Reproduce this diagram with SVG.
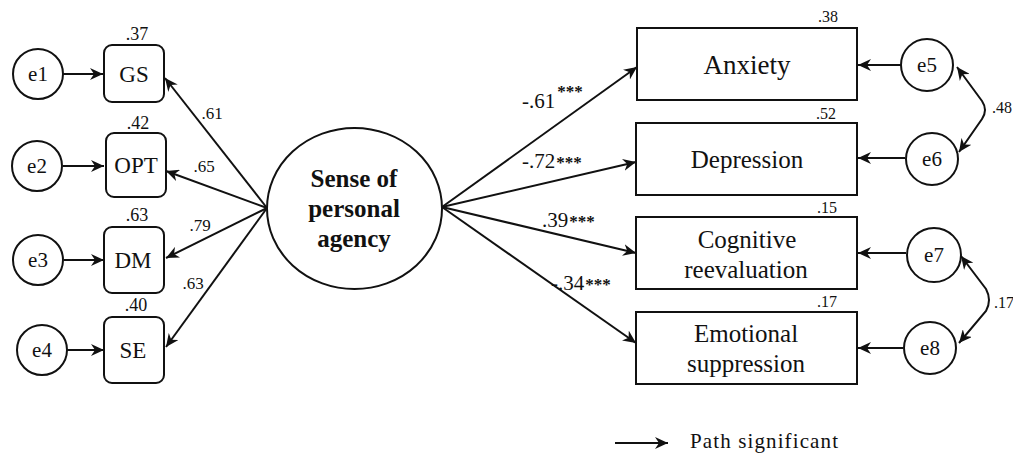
<svg xmlns="http://www.w3.org/2000/svg" width="1013" height="458" viewBox="0 0 1013 458">
<style>
.bg{fill:#fff}
.node{fill:#fff;stroke:#111;stroke-width:2}
.edge{fill:none;stroke:#111;stroke-width:2}
</style>
<defs>
<marker id="ah" markerUnits="userSpaceOnUse" markerWidth="14" markerHeight="12" refX="13" refY="6" orient="auto-start-reverse">
<path d="M0,0 L13,6 L0,12 L4,6 z" fill="#111"/>
</marker>
</defs>
<rect class="bg" width="1013" height="458"/>

<g id="connectors">
<line class="edge" x1="63" y1="74" x2="103" y2="74" marker-end="url(#ah)"/>
<line class="edge" x1="63" y1="166" x2="104" y2="166" marker-end="url(#ah)"/>
<line class="edge" x1="64" y1="260" x2="104" y2="260" marker-end="url(#ah)"/>
<line class="edge" x1="67" y1="350" x2="104" y2="350" marker-end="url(#ah)"/>
<line class="edge" x1="267" y1="208" x2="165" y2="78" marker-end="url(#ah)"/>
<line class="edge" x1="267" y1="208" x2="166" y2="171" marker-end="url(#ah)"/>
<line class="edge" x1="267" y1="208" x2="166" y2="258" marker-end="url(#ah)"/>
<line class="edge" x1="267" y1="208" x2="166" y2="347" marker-end="url(#ah)"/>
<line class="edge" x1="442" y1="207" x2="637" y2="67" marker-end="url(#ah)"/>
<line class="edge" x1="442" y1="207" x2="636" y2="162" marker-end="url(#ah)"/>
<line class="edge" x1="442" y1="207" x2="636" y2="253" marker-end="url(#ah)"/>
<line class="edge" x1="442" y1="207" x2="636" y2="343" marker-end="url(#ah)"/>
<line class="edge" x1="901" y1="65" x2="858" y2="65" marker-end="url(#ah)"/>
<line class="edge" x1="905" y1="158" x2="858" y2="158" marker-end="url(#ah)"/>
<line class="edge" x1="906" y1="253" x2="858" y2="253" marker-end="url(#ah)"/>
<line class="edge" x1="903" y1="348" x2="858" y2="348" marker-end="url(#ah)"/>
<path class="edge" d="M957,67 L982,101 Q988,110 982,119 L959,152" marker-start="url(#ah)" marker-end="url(#ah)"/>
<path class="edge" d="M961,256 L986,289 Q992,300 986,311 L959,343" marker-start="url(#ah)" marker-end="url(#ah)"/>
<line class="edge" x1="615" y1="443" x2="668" y2="443" marker-end="url(#ah)"/>
</g>

<g font-family="Liberation Serif" fill="#111" text-anchor="middle">
<g id="e1"><circle class="node" cx="38" cy="74" r="25"/><text font-family="Liberation Serif" font-size="21" x="38" y="81">e1</text></g>
<g id="e2"><circle class="node" cx="37" cy="166" r="25"/><text font-family="Liberation Serif" font-size="21" x="37" y="173">e2</text></g>
<g id="e3"><circle class="node" cx="38" cy="260" r="25"/><text font-family="Liberation Serif" font-size="21" x="38" y="267">e3</text></g>
<g id="e4"><circle class="node" cx="42" cy="350" r="25"/><text font-family="Liberation Serif" font-size="21" x="42" y="357">e4</text></g>

<g id="GS"><rect class="node" x="104" y="45" width="60" height="57" rx="8"/><text font-family="Liberation Serif" font-size="23" x="134" y="82">GS</text><text font-family="Liberation Serif" font-size="18" x="137" y="40">.37</text></g>
<g id="OPT"><rect class="node" x="106" y="133" width="60" height="64" rx="8"/><text font-family="Liberation Serif" font-size="23" x="136" y="173">OPT</text><text font-family="Liberation Serif" font-size="18" x="138" y="129">.42</text></g>
<g id="DM"><rect class="node" x="104" y="227" width="60" height="66" rx="8"/><text font-family="Liberation Serif" font-size="23" x="133" y="268">DM</text><text font-family="Liberation Serif" font-size="18" x="137" y="221">.63</text></g>
<g id="SE"><rect class="node" x="104" y="317" width="60" height="66" rx="8"/><text font-family="Liberation Serif" font-size="23" x="133" y="358">SE</text><text font-family="Liberation Serif" font-size="18" x="136" y="311">.40</text></g>

<g id="agency"><ellipse class="node" cx="354.5" cy="208.5" rx="87.5" ry="80.5"/>
<text font-family="Liberation Serif" font-size="25" font-weight="bold" x="354" y="187">Sense of</text>
<text font-family="Liberation Serif" font-size="25" font-weight="bold" x="354" y="217">personal</text>
<text font-family="Liberation Serif" font-size="25" font-weight="bold" x="354" y="247">agency</text></g>

<g id="Anxiety"><rect class="node" x="637" y="28" width="220" height="72"/><text font-family="Liberation Serif" font-size="27" x="747" y="74">Anxiety</text><text font-family="Liberation Serif" font-size="16" x="828" y="22">.38</text></g>
<g id="Depression"><rect class="node" x="636" y="123" width="221" height="72"/><text font-family="Liberation Serif" font-size="25" x="747" y="168">Depression</text><text font-family="Liberation Serif" font-size="16" x="826" y="119">.52</text></g>
<g id="Cognitive"><rect class="node" x="636" y="217" width="221" height="72"/><text font-family="Liberation Serif" font-size="25" x="747" y="248">Cognitive</text><text font-family="Liberation Serif" font-size="25" x="746" y="278">reevaluation</text><text font-family="Liberation Serif" font-size="16" x="827" y="213">.15</text></g>
<g id="Emotional"><rect class="node" x="636" y="312" width="221" height="72"/><text font-family="Liberation Serif" font-size="25" x="746" y="342">Emotional</text><text font-family="Liberation Serif" font-size="25" x="746" y="372">suppression</text><text font-family="Liberation Serif" font-size="16" x="827" y="307">.17</text></g>

<g id="e5"><circle class="node" cx="927" cy="65" r="26"/><text font-family="Liberation Serif" font-size="21" x="927" y="72">e5</text></g>
<g id="e6"><circle class="node" cx="932" cy="159" r="26"/><text font-family="Liberation Serif" font-size="21" x="932" y="166">e6</text></g>
<g id="e7"><circle class="node" cx="934" cy="255" r="27"/><text font-family="Liberation Serif" font-size="21" x="934" y="262">e7</text></g>
<g id="e8"><circle class="node" cx="930" cy="348" r="26"/><text font-family="Liberation Serif" font-size="21" x="930" y="355">e8</text></g>

<g id="labels">
<text font-family="Liberation Serif" font-size="17" x="212" y="119">.61</text>
<text font-family="Liberation Serif" font-size="17" x="204" y="172">.65</text>
<text font-family="Liberation Serif" font-size="17" x="200" y="231">.79</text>
<text font-family="Liberation Serif" font-size="17" x="193" y="289">.63</text>
<text font-family="Liberation Serif" font-size="21" text-anchor="start" x="522" y="108">-.61<tspan font-size="17" font-weight="bold" dx="2" dy="-11">***</tspan></text>
<text font-family="Liberation Serif" font-size="21" text-anchor="start" x="522" y="168">-.72<tspan font-size="17" font-weight="bold" dx="1">***</tspan></text>
<text font-family="Liberation Serif" font-size="21" text-anchor="start" x="542" y="227">.39<tspan font-size="17" font-weight="bold" dx="1">***</tspan></text>
<text font-family="Liberation Serif" font-size="21" text-anchor="start" x="551" y="290">-.34<tspan font-size="17" font-weight="bold" dx="1">***</tspan></text>
<text font-family="Liberation Serif" font-size="16" text-anchor="start" x="992" y="113">.48</text>
<text font-family="Liberation Serif" font-size="16" text-anchor="start" x="994" y="308">.17</text>
<text font-family="Liberation Serif" font-size="21" text-anchor="start" x="690" y="448" textLength="148">Path significant</text>
</g>
</g>
</svg>
